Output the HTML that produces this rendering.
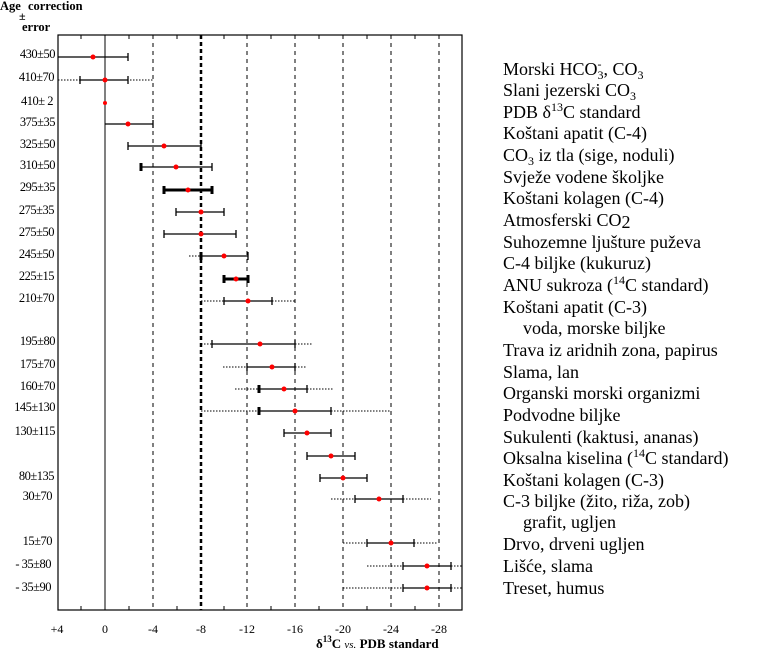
<!DOCTYPE html>
<html><head><meta charset="utf-8"><style>
body{margin:0;background:#fff}
svg{display:block}
.r{font-family:"Liberation Serif",serif;font-size:18px;fill:#000}
.l{font-family:"Liberation Serif",serif;font-size:12.5px;fill:#000;letter-spacing:-0.5px}
.t{font-family:"Liberation Serif",serif;font-size:12px;fill:#000}
</style></head><body>
<svg width="763" height="651" viewBox="0 0 763 651">
<text x="0" y="10" font-family="Liberation Serif" font-size="12.5" font-weight="bold" word-spacing="4">Age correction</text>
<text x="19" y="20" font-family="Liberation Serif" font-size="12" font-weight="bold">±</text>
<text x="22" y="31" font-family="Liberation Serif" font-size="12.5" font-weight="bold">error</text>
<rect x="58" y="35" width="404" height="575" fill="none" stroke="#000" stroke-width="1.2"/>
<g stroke="#000" stroke-width="1">
<line x1="105" y1="35" x2="105" y2="610"/>
<line x1="153" y1="35" x2="153" y2="610" stroke-dasharray="4,4"/>
<line x1="201" y1="35" x2="201" y2="610" stroke-dasharray="4,3" stroke-width="2.5"/>
<line x1="247" y1="35" x2="247" y2="610" stroke-dasharray="4,4"/>
<line x1="295" y1="35" x2="295" y2="610" stroke-dasharray="4,4"/>
<line x1="343" y1="35" x2="343" y2="610" stroke-dasharray="4,4"/>
<line x1="391" y1="35" x2="391" y2="610" stroke-dasharray="4,4"/>
<line x1="439" y1="35" x2="439" y2="610" stroke-dasharray="4,4"/>
</g>
<g stroke="#000" stroke-width="1">
<path d="M81 35v4M129 35v4M177 35v4M224 35v4M271 35v4M319 35v4M367 35v4M415 35v4M81 610v-4M129 610v-4M177 610v-4M224 610v-4M271 610v-4M319 610v-4M367 610v-4M415 610v-4"/>
</g>
<g class="t" text-anchor="middle">
<text x="57" y="633">+4</text><text x="105" y="633">0</text><text x="153" y="633">-4</text><text x="201" y="633">-8</text><text x="247" y="633">-12</text><text x="295" y="633">-16</text><text x="343" y="633">-20</text><text x="391" y="633">-24</text><text x="439" y="633">-28</text>
</g>
<text x="316" y="648" font-family="Liberation Serif" font-size="13" font-weight="bold">δ<tspan font-size="9" dy="-6">13</tspan><tspan dy="6">C  </tspan><tspan font-style="italic" font-weight="normal" font-size="11">vs.</tspan> PDB  standard</text>
<g stroke="#000" stroke-width="1" stroke-dasharray="1.5,1.5">
<path d="M58 80H153M189 256H201M201 301H224M272 301H295M201 344H212M295 344H313M223 367H247M295 367H307M235 389H259M307 389H333M201 411H259M331 411H391M331 499H355M403 499H431M343 543H367M414 543H438M367 566H403M451 566H462M343 588H403M451 588H462"/>
</g>
<g stroke="#000" stroke-width="1.3">
<path d="M58 57H128M128 53v8M80 80H128M80 76v8M128 76v8M105 124H153M153 120v8M128 146H201M128 142v8M201 142v8M141 167H212M212 163v8M176 212H224M176 208v8M224 208v8M164 234H236M164 230v8M236 230v8M201 256H248M248 252v8M224 301H272M224 297v8M272 297v8M212 344H295M212 340v8M295 340v8M247 367H295M247 363v8M295 363v8M259 389H307M307 385v8M259 411H331M331 407v8M284 433H331M284 429v8M331 429v8M307 456H355M307 452v8M355 452v8M320 478H367M320 474v8M367 474v8M355 499H403M355 495v8M403 495v8M367 543H414M367 539v8M414 539v8M403 566H451M403 562v8M451 562v8M403 588H451M403 584v8M451 584v8"/>
</g>
<g stroke="#000" stroke-width="3">
<path d="M164 190H212M141 163v8M164 186v8M212 186v8M201 252v8M224 279H248M224 275v8M248 275v8M259 385v8M259 407v8"/>
</g>
<g fill="#f00">
<circle cx="93" cy="57" r="2.5"/><circle cx="105" cy="80" r="2.5"/><circle cx="105" cy="103" r="2"/><circle cx="128" cy="124" r="2.5"/><circle cx="164" cy="146" r="2.5"/><circle cx="176" cy="167" r="2.5"/><circle cx="188" cy="190" r="2.5"/><circle cx="201" cy="212" r="2.5"/><circle cx="201" cy="234" r="2.5"/><circle cx="224" cy="256" r="2.5"/><circle cx="236" cy="279" r="2.5"/><circle cx="248" cy="301" r="2.5"/><circle cx="260" cy="344" r="2.5"/><circle cx="272" cy="367" r="2.5"/><circle cx="284" cy="389" r="2.5"/><circle cx="295" cy="411" r="2.5"/><circle cx="307" cy="433" r="2.5"/><circle cx="331" cy="456" r="2.5"/><circle cx="343" cy="478" r="2.5"/><circle cx="379" cy="499" r="2.5"/><circle cx="391" cy="543" r="2.5"/><circle cx="427" cy="566" r="2.5"/><circle cx="427" cy="588" r="2.5"/>
</g>
<g class="l" text-anchor="end">
<text x="55" y="58">430±50</text><text x="54" y="81">410±70</text><text x="53" y="105">410±  2</text><text x="55" y="126">375±35</text><text x="55" y="148">325±50</text><text x="55" y="169">310±50</text><text x="55" y="191">295±35</text><text x="54" y="214">275±35</text><text x="54" y="236">275±50</text><text x="54" y="258">245±50</text><text x="54" y="280">225±15</text><text x="54" y="302">210±70</text><text x="55" y="345">195±80</text><text x="55" y="368">175±70</text><text x="55" y="390">160±70</text><text x="55" y="411">145±130</text><text x="55" y="435">130±115</text><text x="54" y="480">80±135</text><text x="52" y="500">30±70</text><text x="52" y="545">15±70</text><text x="51" y="568">- 35±80</text><text x="51" y="591">- 35±90</text>
</g>
<g class="r">
<text x="503" y="75">Morski  HCO<tspan font-size="12" dy="4">3</tspan><tspan font-size="12" dx="-6" dy="-11">-</tspan><tspan dx="2" dy="7">, CO</tspan><tspan font-size="12" dy="4">3</tspan></text>
<text x="503" y="96">Slani jezerski CO<tspan font-size="12" dy="4">3</tspan></text>
<text x="503" y="118">PDB δ<tspan font-size="12" dy="-7">13</tspan><tspan dy="7">C standard</tspan></text>
<text x="503" y="139">Koštani apatit (C-4)</text>
<text x="503" y="161">CO<tspan font-size="12" dy="4">3</tspan><tspan dy="-4"> iz tla (sige, noduli)</tspan></text>
<text x="503" y="183">Svježe vodene školjke</text>
<text x="503" y="204">Koštani kolagen (C-4)</text>
<text x="503" y="226">Atmosferski CO<tspan dy="2">2</tspan></text>
<text x="503" y="248">Suhozemne ljušture puževa</text>
<text x="503" y="269">C-4 biljke (kukuruz)</text>
<text x="503" y="291">ANU sukroza (<tspan font-size="12" dy="-7">14</tspan><tspan dy="7">C standard)</tspan></text>
<text x="503" y="313">Koštani apatit (C-3)</text>
<text x="523" y="334">voda, morske biljke</text>
<text x="503" y="356">Trava iz aridnih zona, papirus</text>
<text x="503" y="378">Slama, lan</text>
<text x="503" y="399">Organski morski organizmi</text>
<text x="503" y="421">Podvodne biljke</text>
<text x="503" y="443">Sukulenti (kaktusi, ananas)</text>
<text x="503" y="464">Oksalna kiselina (<tspan font-size="12" dy="-7">14</tspan><tspan dy="7">C standard)</tspan></text>
<text x="503" y="486">Koštani kolagen (C-3)</text>
<text x="503" y="507">C-3 biljke (žito, riža, zob)</text>
<text x="523" y="528">grafit, ugljen</text>
<text x="503" y="550">Drvo, drveni ugljen</text>
<text x="503" y="572">Lišće, slama</text>
<text x="503" y="594">Treset, humus</text>
</g>
</svg>
</body></html>
